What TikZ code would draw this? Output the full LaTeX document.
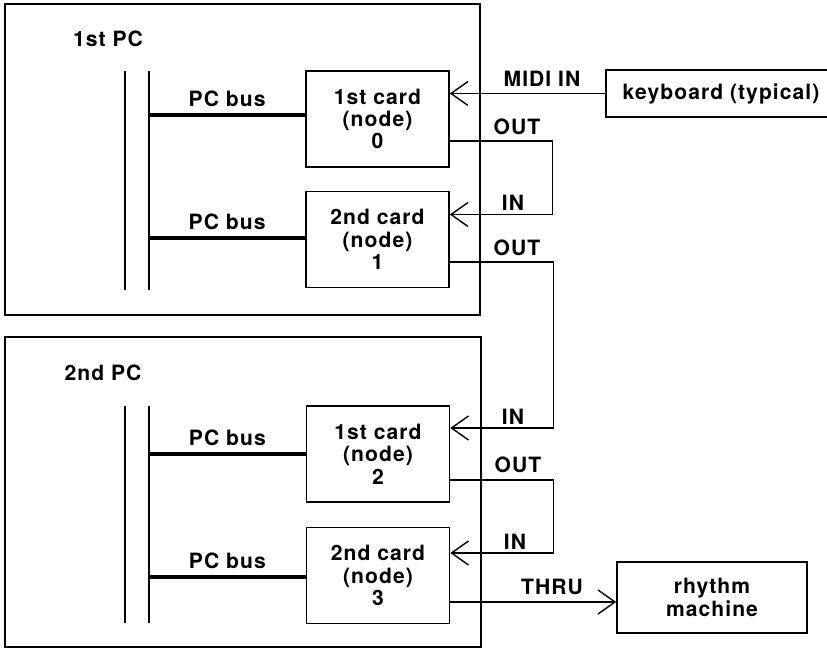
\documentclass[tikz,border=0pt]{standalone}
\usepackage{fontspec}
\setmainfont{TeX Gyre Heros}[LetterSpace=5]
\usetikzlibrary{arrows.meta,calc}

\begin{document}
\begin{tikzpicture}[x=0.02cm,y=-0.02cm,
  every node/.style={font=\bfseries\fontsize{12}{12.7}\selectfont},
  pcbox/.style={draw,line width=0.9pt,inner sep=0pt},
  card/.style={draw,line width=0.9pt,minimum width=2.86cm,minimum height=1.92cm,align=center,inner sep=0pt},
  link/.style={line width=0.8pt},
  midi/.style={link,-{Straight Barb[length=3.4mm,width=4.8mm,line width=0.8pt]}},
  bus/.style={line width=2.3pt}]
  \useasboundingbox (0,0) rectangle (827,648);
  \node[pcbox,minimum width=9.5cm,minimum height=6.22cm] (pc1) at (242.5,159.5) {};
  \node[pcbox,minimum width=9.52cm,minimum height=6.2cm] (pc2) at (243,492) {};
  \node (pc1lbl) at (108,39) {1st PC};
  \node (pc2lbl) at (103,373) {2nd PC};
  \draw[link] (125,71) -- (125,290);
  \draw[link] (149,71) -- (149,290);
  \draw[link] (125,406) -- (125,623);
  \draw[link] (149,406) -- (149,623);
  \node[card] (card0) at (377.5,119) {1st card\\(node)\\0};
  \node[card] (card1) at (377.5,239.5) {2nd card\\(node)\\1};
  \node[card] (card2) at (378,454) {1st card\\(node)\\2};
  \node[card] (card3) at (378,575.5) {2nd card\\(node)\\3};
  \coordinate (bus0) at (149,115);
  \coordinate (bus1) at (149,238);
  \coordinate (bus2) at (149,454);
  \coordinate (bus3) at (149,577);
  \draw[bus] (bus0) -- (bus0 -| card0.west) node[midway,above] {PC bus};
  \draw[bus] (bus1) -- (bus1 -| card1.west) node[midway,above] {PC bus};
  \draw[bus] (bus2) -- (bus2 -| card2.west) node[midway,above] {PC bus};
  \draw[bus] (bus3) -- (bus3 -| card3.west) node[midway,above] {PC bus};
  \node[draw,line width=0.9pt,minimum width=4.6cm,minimum height=0.94cm] (kbd) at (721,93.5) {keyboard (typical)};
  \node[draw,line width=0.9pt,minimum width=3.8cm,minimum height=1.42cm,align=center] (rhythm) at (712,597.5) {rhythm\\machine};
  \draw[midi] (kbd.west) -- (kbd.west -| card0.east);
  \draw[midi] ($(card0.east)+(0,22)$) -| ($(card1.east)+(103,-25)$) -- ($(card1.east)+(0,-25)$);
  \draw[midi] ($(card1.east)+(0,22.5)$) -| ($(card2.east)+(103,-26)$) -- ($(card2.east)+(0,-26)$);
  \draw[midi] ($(card2.east)+(0,26)$) -| ($(card3.east)+(103,-22.5)$) -- ($(card3.east)+(0,-22.5)$);
  \draw[midi] ($(card3.east)+(0,26.5)$) coordinate (thru) -- (thru -| rhythm.west);
  \node (midiin) at (542,79) {MIDI IN};
  \node (out0) at (517,127) {OUT};
  \node (in1) at (513,203) {IN};
  \node (out1) at (517,248) {OUT};
  \node (in2) at (513,417) {IN};
  \node (out2) at (518,465) {OUT};
  \node (in3) at (515,542) {IN};
  \node (thrulbl) at (552,587) {THRU};
\end{tikzpicture}
\end{document}
